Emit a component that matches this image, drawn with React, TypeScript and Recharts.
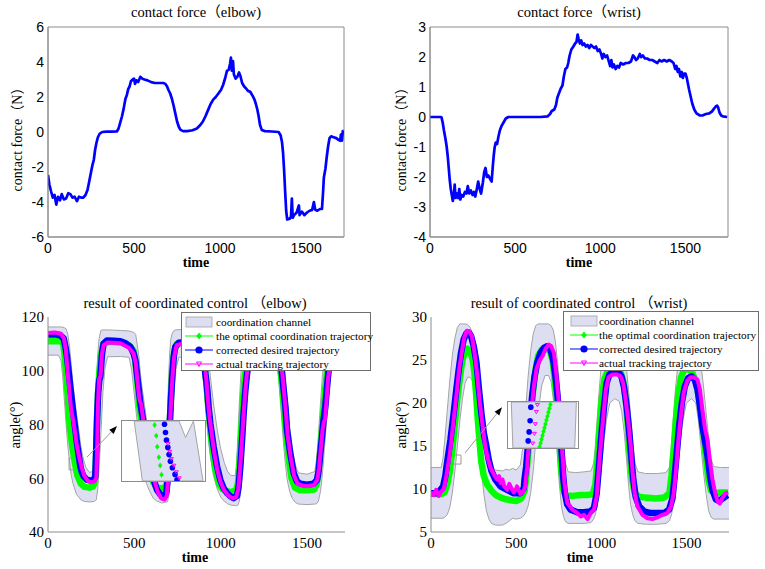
import React from 'react';
import { ComposedChart, Line, Area, XAxis, YAxis, ReferenceArea, ReferenceLine } from 'recharts';

// ---------------- data ----------------
const timeTicks = [0, 500, 1000, 1500];
const elbowForceTicks = [-6, -4, -2, 0, 2, 4, 6];
const wristForceTicks = [-4, -3, -2, -1, 0, 1, 2, 3];
const elbowAngleTicks = [40, 60, 80, 100, 120];
const wristAngleTicks = [5, 10, 15, 20, 25, 30];

const titles = ['contact force（elbow)', 'contact force（wrist)', 'result of coordinated control （elbow)', 'result of coordinated control （wrist)'];
const xLabel = 'time';
const forceLabel = 'contact force（N）';
const angleLabel = 'angle(°)';
const legendLabels = ['coordination channel', 'the optimal coordination trajectory', 'corrected desired trajectory', 'actual tracking trajectory'];

const elbowForce: number[][] = [[0,-2.45],[8,-3.0],[18,-3.4],[28,-3.75],[38,-3.6],[48,-4.15],[58,-3.7],[70,-3.9],[80,-3.55],[92,-3.85],[105,-3.8],[118,-3.5],[130,-3.55],[142,-3.75],[155,-3.7],[168,-3.95],[180,-3.7],[192,-3.75],[205,-3.75],[218,-3.6],[230,-3.3],[240,-2.8],[250,-2.3],[258,-1.9],[266,-1.6],[274,-1.0],[282,-0.6],[290,-0.3],[300,-0.1],[315,0.0],[340,0.02],[370,0.02],[400,0.03],[410,0.2],[420,0.55],[430,0.9],[440,1.35],[450,1.9],[458,2.1],[466,2.45],[474,2.6],[482,2.9],[492,3.0],[500,3.05],[506,2.75],[514,2.95],[524,2.85],[536,3.15],[548,3.05],[560,3.0],[578,2.95],[600,2.85],[620,2.8],[645,2.8],[670,2.8],[682,2.75],[692,2.6],[700,2.4],[710,2.2],[720,1.9],[730,1.5],[740,1.05],[750,0.6],[760,0.3],[770,0.12],[785,0.05],[810,0.05],[840,0.1],[865,0.2],[885,0.4],[900,0.6],[915,0.9],[930,1.25],[945,1.6],[960,1.85],[975,2.0],[990,2.2],[1005,2.4],[1018,2.7],[1030,3.1],[1040,3.5],[1050,3.55],[1058,3.9],[1063,4.25],[1068,3.5],[1075,4.05],[1080,3.3],[1090,3.05],[1100,3.15],[1110,3.4],[1118,3.2],[1128,2.8],[1140,2.6],[1150,2.5],[1162,2.35],[1175,2.3],[1190,2.05],[1200,1.85],[1208,1.6],[1216,1.3],[1224,0.9],[1232,0.4],[1242,0.12],[1260,0.05],[1300,0.03],[1340,0.0],[1352,-0.2],[1360,-0.6],[1366,-1.2],[1372,-2.2],[1378,-3.4],[1384,-4.5],[1390,-5.0],[1405,-4.95],[1412,-4.85],[1417,-3.8],[1422,-4.9],[1430,-4.75],[1445,-4.6],[1458,-4.2],[1462,-4.75],[1475,-4.55],[1490,-4.75],[1505,-4.6],[1520,-4.5],[1535,-4.45],[1545,-4.0],[1553,-4.45],[1565,-4.5],[1580,-4.4],[1592,-4.4],[1598,-3.5],[1603,-2.6],[1612,-2.1],[1620,-1.4],[1628,-0.8],[1636,-0.35],[1645,-0.25],[1660,-0.3],[1675,-0.35],[1688,-0.45],[1698,-0.5],[1702,-0.15],[1708,-0.5],[1713,0.05],[1718,0.05]];

const wristForce: number[][] = [[0,0],[30,0],[60,0],[68,-0.02],[75,-0.2],[82,-0.45],[90,-0.7],[97,-0.95],[104,-1.3],[110,-1.7],[116,-2.1],[122,-2.4],[128,-2.6],[134,-2.8],[140,-2.6],[145,-2.25],[150,-2.7],[158,-2.55],[166,-2.7],[172,-2.4],[178,-2.75],[186,-2.6],[195,-2.65],[205,-2.5],[214,-2.55],[222,-2.3],[230,-2.55],[240,-2.45],[250,-2.6],[258,-2.5],[266,-2.65],[275,-2.4],[283,-2.15],[292,-2.4],[300,-2.55],[310,-2.2],[318,-1.85],[326,-1.7],[334,-2.0],[342,-1.95],[352,-2.05],[362,-2.15],[368,-1.7],[374,-1.3],[380,-1.0],[386,-0.85],[394,-0.9],[402,-0.65],[410,-0.45],[420,-0.3],[430,-0.2],[445,-0.05],[460,0],[550,0],[650,0],[690,0.02],[705,0.1],[715,0.2],[730,0.25],[740,0.4],[748,0.65],[758,0.8],[768,0.95],[778,1.05],[786,1.35],[795,1.6],[805,1.65],[812,1.8],[820,2.05],[830,2.25],[842,2.35],[852,2.45],[860,2.5],[867,2.75],[873,2.6],[880,2.45],[888,2.55],[896,2.4],[905,2.45],[915,2.35],[925,2.4],[935,2.3],[945,2.4],[955,2.35],[965,2.3],[975,2.35],[985,2.2],[995,2.25],[1005,2.1],[1012,1.95],[1020,2.1],[1030,2.0],[1040,2.05],[1050,1.85],[1058,1.7],[1065,1.9],[1072,1.65],[1080,1.75],[1090,1.6],[1100,1.7],[1110,1.65],[1120,1.8],[1135,1.75],[1150,1.8],[1165,1.8],[1180,1.85],[1192,2.05],[1200,2.0],[1210,1.9],[1220,1.95],[1232,2.1],[1240,2.0],[1250,2.05],[1262,1.95],[1275,1.95],[1290,1.9],[1305,1.9],[1320,1.85],[1335,1.8],[1348,1.9],[1360,1.85],[1375,1.9],[1390,1.85],[1405,1.9],[1420,1.85],[1430,1.8],[1440,1.6],[1447,1.7],[1455,1.5],[1462,1.6],[1470,1.35],[1478,1.5],[1485,1.3],[1492,1.45],[1500,1.45],[1508,1.3],[1515,1.1],[1522,0.9],[1530,0.7],[1540,0.45],[1552,0.25],[1565,0.12],[1585,0.05],[1600,0.05],[1620,0.1],[1640,0.12],[1655,0.18],[1668,0.28],[1678,0.35],[1686,0.38],[1692,0.32],[1700,0.15],[1710,0.05],[1720,0.02],[1745,0]];

// elbow coordination: [t, lower, upper]
const elbowChannel: number[][] = [[0,105.8,116.3],[60,105.8,116.3],[75,104,116.3],[85,98,116.2],[95,89,116],[105,80,115.6],[115,72,113.5],[125,66,109],[135,61,102],[145,58,95],[155,56,89],[165,54,84],[178,53,78],[190,52,72],[205,51.5,67],[220,51.3,64],[240,51.2,62.2],[262,51.3,62.5],[268,51.4,70],[274,51.6,82],[280,52,95],[288,56,106],[296,64,112],[306,76,115],[318,92,115.2],[330,101,115.2],[345,105.2,115.2],[420,105.3,115],[470,105,114.8],[485,100,114.5],[495,94,114.3],[508,86,113.5],[525,76,106],[540,68,96],[555,62,89],[570,58,82],[590,55,73],[610,52.5,66],[630,51.5,62],[660,50.8,60],[680,51,61],[686,51.1,70],[692,51.2,84],[698,53,97],[705,58,107],[712,68,112],[720,80,114],[730,92,115],[742,101,115.2],[758,105,115.3],[800,105.2,115.5],[880,105,115],[893,101,115],[903,94,114.8],[913,86,113.5],[925,77,108],[940,68,98],[958,61,88],[980,56,78],[1000,53,71],[1020,51.5,66],[1040,50.5,62.5],[1060,50,61],[1085,49.8,61],[1092,49.8,66],[1100,50,76],[1108,51.5,88],[1118,56,100],[1128,66,109],[1138,77,113],[1150,89,114.5],[1165,99,115],[1185,104.5,115.2],[1320,105.2,115.5],[1330,101,115.3],[1340,94,115],[1350,85,113.5],[1360,76,109],[1372,67,100],[1385,59.5,89],[1400,55,79],[1415,52.5,71],[1432,51,65],[1450,50.4,62],[1500,50.2,61.5],[1545,50.4,62.5],[1555,50.5,67],[1565,51.3,75],[1578,55,88],[1590,62,99],[1602,72,107],[1614,82,112],[1626,92,114.5],[1640,100,115.2],[1660,104.5,115.5],[1720,105.8,115.8]];

const elbowOptimal: number[][] = [[0,111],[80,111],[88,110],[96,106],[105,99],[115,90],[125,80],[140,72],[155,66],[170,61],[190,58],[210,56.8],[240,56.5],[262,57],[272,59],[278,68],[284,82],[292,95],[305,105],[320,110],[345,110.8],[420,110.6],[470,109.5],[495,107.5],[505,104],[515,97],[530,86],[550,78],[570,70],[590,63],[610,58.5],[630,56.5],[655,56.2],[675,56.5],[688,58],[695,64],[702,76],[710,88],[720,100],[730,107],[745,110],[800,111],[870,110.5],[895,108.5],[908,102],[918,95],[930,85],[950,72],[970,63],[990,58],[1010,56],[1040,55],[1070,55],[1090,55.8],[1100,58],[1108,64],[1118,76],[1128,88],[1138,97],[1150,103],[1165,107.5],[1200,110.5],[1300,110.8],[1330,108.5],[1345,102],[1357,93],[1368,85],[1380,76],[1395,67],[1410,60],[1430,56.5],[1460,55.5],[1500,55.5],[1540,55.8],[1555,57.5],[1565,61],[1574,68],[1584,76],[1594,84],[1605,93],[1618,101],[1640,107],[1670,110],[1720,111]];

const elbowCorrected: number[][] = [[0,113.5],[40,113.6],[70,113.2],[91,112],[101,109],[110,105.2],[120,99.5],[129,94],[149,82.9],[168,73],[187,64.4],[197,62],[207,60.7],[226,59.4],[245,59.2],[264,59.4],[274,60.7],[280,71.8],[284,81.7],[290,91.6],[297,96.5],[303,97.8],[313,106.4],[322,110.1],[342,111.3],[380,111.2],[419,111],[450,110.2],[477,108.9],[496,106.4],[506,104],[515,99],[535,87.9],[554,80.4],[573,71.8],[593,64.4],[612,59.4],[631,55.7],[651,53.9],[670,53.3],[685,54.5],[693,59.4],[699,71.8],[708,84.2],[718,96.5],[728,105.2],[737,108.9],[757,110.4],[824,110.7],[860,110.3],[882,109.5],[901,105.2],[911,99],[921,94],[930,86.6],[940,80.4],[959,71.8],[979,64.4],[998,59.4],[1017,56.3],[1037,54.5],[1056,53.3],[1075,52.6],[1095,53.5],[1104,57],[1114,64.4],[1124,74.3],[1133,84.2],[1143,92.8],[1153,99],[1162,102.7],[1181,107.6],[1210,110.1],[1260,110.5],[1307,110.4],[1336,107.6],[1355,99],[1365,92.8],[1375,86.6],[1384,78],[1403,69.3],[1423,61.9],[1442,58.8],[1461,58],[1500,57.6],[1539,58],[1558,59.4],[1568,63.1],[1577,69.3],[1587,75.5],[1596,81.7],[1606,86.6],[1616,94],[1625,100.2],[1645,106.4],[1674,109.5],[1720,110.5]];

const elbowActual: number[][] = [[0,114],[40,114.2],[75,113.8],[92,112],[103,108],[113,100],[123,93],[133,86],[150,80],[165,73],[180,68],[195,64],[210,61],[230,59],[250,58.5],[268,58.8],[280,60],[285,72],[290,88],[296,97],[304,98],[312,106],[322,109.5],[345,110.5],[420,110.2],[470,108.5],[495,106.5],[508,103],[518,96],[530,89],[540,87.5],[555,80],[575,72],[595,65],[615,59.5],[635,55],[655,52.5],[675,52],[688,53.5],[696,60],[702,72],[710,85],[720,97],[730,105],[745,109.5],[800,110.5],[880,109.5],[903,105],[915,98],[925,90],[935,83],[945,78],[962,70],[980,63],[1000,58.5],[1020,55.5],[1045,53.5],[1070,52.5],[1090,53],[1102,56],[1112,63],[1122,73],[1132,83],[1142,92],[1152,99],[1165,104],[1190,108.5],[1220,110],[1300,110.5],[1337,107],[1357,99],[1367,92],[1377,85],[1388,76],[1405,68],[1425,61],[1445,58],[1470,57.3],[1500,57],[1540,57.5],[1560,59.5],[1570,64],[1580,71],[1590,78],[1598,81],[1605,82],[1612,88],[1622,97],[1635,103],[1655,107],[1680,109.5],[1720,110]];

// wrist coordination: [t, lower, upper]
const wristChannel: number[][] = [[0,6.6,12.5],[60,6.6,12.5],[70,6.6,13.5],[80,6.7,15.5],[95,7,19],[110,7.8,22.5],[125,9.5,25.5],[140,12,27.5],[155,15,28.8],[170,18,29.2],[185,20.5,29.2],[200,22.3,29.2],[215,23,29.1],[230,23,28.8],[245,22.5,28],[258,21,27],[270,18.5,25.5],[282,15.5,23.5],[295,12.5,21],[310,9.5,18.5],[325,7.5,16],[340,6.5,14],[355,6,12.6],[380,5.8,12.2],[420,5.8,12.1],[440,6,12.3],[460,6.3,12.2],[480,6.6,12.4],[500,6.5,12.2],[525,6.6,12.8],[540,6.8,15],[555,7.2,19],[570,8,23],[585,9.5,26],[600,12,28],[615,15.5,29],[630,19,29.2],[650,22,29.2],[670,23.2,29.2],[690,23.2,29.2],[705,22.5,29],[718,20.5,28.5],[730,17.5,27.2],[742,14,25],[754,10.5,22],[766,8,19],[778,6.8,15.5],[790,6.2,13],[805,6,12],[850,6,11.9],[900,6,12],[940,6.1,12.1],[955,6.5,13],[965,7,15],[975,8,18],[988,10,21.5],[1000,12.5,24.5],[1015,15.5,26.5],[1030,18,27.3],[1050,20,27.5],[1080,20.5,27.5],[1105,20.2,27.3],[1120,19,27],[1135,16.5,26],[1148,13.5,24],[1160,10.5,21.5],[1172,8.2,18.5],[1185,7,15.5],[1198,6.3,13],[1215,6,12],[1260,5.9,11.8],[1330,5.9,11.8],[1380,6,11.9],[1400,6.3,12.5],[1412,7,15],[1422,8,18],[1435,10,21.5],[1450,12.5,24.5],[1465,15.5,26.5],[1480,18,27.3],[1500,20,27.5],[1530,20.5,27.5],[1555,20,27.2],[1570,18,26.5],[1585,15,24.5],[1600,12,22],[1615,9.5,19],[1630,7.5,16],[1645,6.7,13.5],[1660,6.5,12.6],[1700,6.5,12.5],[1750,6.5,12.5]];

const wristOptimal: number[][] = [[0,9.5],[60,9.4],[80,9.6],[95,10.5],[110,12],[125,14.5],[140,17.5],[155,20.5],[170,23],[185,25],[200,26],[215,26.3],[230,26],[245,25],[255,23.5],[265,21],[275,18],[285,15.5],[295,13.2],[310,11.5],[330,10.5],[355,9.8],[380,9.3],[410,9],[440,8.8],[470,8.7],[500,8.6],[530,8.9],[550,9.8],[560,11.5],[572,14.5],[585,18],[600,21.5],[615,24],[630,25.5],[650,26.2],[680,26.3],[700,26],[715,24.8],[728,22.5],[740,19.5],[752,16],[764,12.5],[776,10],[790,9.3],[830,9.2],[880,9.3],[920,9.3],[950,9.4],[965,10.5],[978,13.5],[990,17],[1003,20.5],[1018,22.8],[1035,23.6],[1060,23.9],[1090,23.9],[1115,23.5],[1130,22.5],[1143,20.5],[1155,17.5],[1167,14],[1180,11.2],[1195,9.6],[1220,9.1],[1260,9],[1320,8.9],[1370,9],[1400,9.5],[1412,11.5],[1425,14.5],[1438,18],[1452,21],[1468,23],[1485,23.8],[1510,24],[1535,23.5],[1555,22.5],[1570,21],[1585,19],[1600,16.5],[1615,13.5],[1630,11],[1645,9.8],[1670,9.5],[1700,9.6],[1745,9.6]];

const wristCorrected: number[][] = [[0,9.5],[40,9.5],[71,10.3],[84,11.5],[94,13],[114,15.7],[133,18.8],[149,21.6],[163,23.9],[176,25.8],[192,27.4],[208,28.1],[222,28.2],[235,27.8],[251,26.6],[267,24.7],[280,21.9],[296,18.8],[310,16.5],[325,15],[339,13.4],[355,12.1],[378,11.1],[408,10.3],[447,9.9],[486,9.5],[525,9.5],[545,10.1],[549,11.1],[559,12.6],[569,15],[580,17.7],[594,20.8],[608,23.1],[624,24.7],[643,25.8],[663,26.4],[682,26.6],[702,26.2],[718,25],[731,23.1],[745,20.4],[757,17.3],[767,14.2],[776,11.5],[786,9.5],[800,8.2],[820,7.6],[859,7.3],[898,7.3],[937,7.4],[957,7.8],[973,9.5],[986,12.6],[1000,16.1],[1016,19.6],[1031,22.3],[1047,23.3],[1075,23.7],[1098,23.7],[1118,23.1],[1133,21.9],[1149,19.6],[1163,16.9],[1176,13.8],[1188,11.1],[1202,9.1],[1222,8],[1251,7.4],[1290,7.2],[1329,7.2],[1369,7.2],[1398,7.6],[1418,8.9],[1431,11.5],[1443,14.2],[1457,17.3],[1473,20],[1490,21.9],[1510,22.9],[1529,23.1],[1549,22.7],[1565,21.6],[1580,19.6],[1594,17.3],[1608,15.7],[1624,13.8],[1639,11.5],[1653,9.9],[1673,8.8],[1692,8.6],[1712,8.9],[1741,9.3]];

const wristActual: number[][] = [[0,9.6],[15,9.3],[30,9.9],[45,9.2],[60,9.7],[75,10],[90,11.5],[110,14],[130,17.5],[150,21],[165,23.9],[180,25.8],[195,27.6],[210,28.4],[225,28.3],[240,27.8],[256,25.8],[270,23.5],[286,20.2],[302,17.5],[318,15],[333,13.6],[349,12.5],[369,11.7],[388,11.1],[400,11.5],[408,10.7],[420,11.1],[430,10.3],[447,9.9],[460,10.6],[467,10.3],[486,9.6],[500,10],[505,10.3],[525,9.4],[545,9.8],[553,10.3],[565,12.6],[576,15.7],[588,18.8],[604,21.9],[620,24],[637,24.9],[656,25.5],[673,26.3],[692,26.8],[706,26.6],[722,25.8],[737,23.1],[751,20],[761,16.9],[773,13.8],[784,10.7],[800,8.4],[830,7.6],[859,7.2],[880,6.8],[898,7],[920,6.5],[937,7.2],[957,7.6],[973,9.1],[984,11.9],[996,15],[1012,18.5],[1027,21.6],[1043,23],[1064,23.3],[1094,23.3],[1114,23.1],[1129,22.3],[1143,20.4],[1157,18.1],[1173,15],[1184,11.9],[1196,9.5],[1212,8],[1241,7],[1271,6.6],[1300,6.5],[1329,6.7],[1360,7],[1388,7.2],[1410,8],[1425,9.5],[1439,12.2],[1453,15.7],[1469,18.8],[1484,21.2],[1505,22.6],[1525,23],[1545,23],[1565,22.7],[1579,21.6],[1594,19.2],[1610,16.9],[1624,15.7],[1637,13.4],[1653,11.1],[1669,9.5],[1682,8.6],[1696,8.3],[1712,9],[1730,9.5],[1745,9.6]];

// zoom windows: [t1, t2, v1, v2] and arrow [tStart, vStart, tEnd, vEnd]
const elbowZoomWindow = [122, 203, 63.1, 67.5];
const elbowZoomArrow = [226, 67.9, 400, 79.4];
const wristZoomWindow = [94, 176, 12.9, 13.95];
const wristZoomArrow = [200, 14.2, 417, 19.5];

// inset close-ups (0-100 local scale): band [x, lower, upper]; markers [x, y]
const elbowInsetChannel: number[][] = [[14.7,100,100],[24.6,0,100],[68.7,0,100],[76.6,0,72.5],[86.1,0,100],[97.6,0,0]];
const elbowInsetOptimal: number[][] = [[39.3,93.4],[41.3,75.3],[42.5,57.1],[44.4,39.6],[46,25.8],[47.6,10.4]];
const elbowInsetCorrected: number[][] = [[51.2,94.5],[52.4,80.8],[53.6,68.1],[55.2,56],[56.7,44],[58.3,33],[60.7,22],[63.9,11],[66.3,2.2]];
const elbowInsetActual: number[][] = [[55.5,62],[57.5,49],[59.5,37],[62.5,26],[65.5,15],[69,5]];
const wristInsetChannel: number[][] = [[4.7,100,100],[7,0,100],[95.3,0,100],[97.7,100,100]];
const wristInsetOptimal: number[][] = [[60.5,94.4],[59.1,86],[57.7,77.6],[56.3,69.2],[54.9,60.8],[53.5,52.4],[52.1,44.1],[50.7,35.7],[49.3,27.3],[47.9,18.9],[46.5,10.5],[45.1,2.1]];
const wristInsetCorrected: number[][] = [[32.6,88.8],[31.6,59.4],[30.2,35],[28.8,15.4]];
const wristInsetActual: number[][] = [[42,94],[40.5,79],[39,52.4],[37.7,31.5],[35.3,10.5]];

// ---------------- helpers ----------------
const rows = (a: number[][]) => a.map((p) => ({ t: p[0], v: p[1] }));
const bandRows = (a: number[][]) => a.map((p) => ({ t: p[0], r: [p[1], p[2]] }));

const SERIF = '"Liberation Serif", "Times New Roman", "Noto Sans CJK SC", serif';
const SANS = '"Liberation Sans", Arial, sans-serif';
const AXIS = '#8c8c8c';
const BAND = '#dedef2';
const BAND_EDGE = '#a4a4a4';
const GREEN = '#00ff00';
const BLUE = '#0000ff';
const MAGENTA = '#ff00ff';

type PanelProps = {
  left: number; top: number; w: number; h: number;
  px0: number; py0: number; px1: number; py1: number;
  xMax: number; yDomain: [number, number]; yTicks: number[];
  tickFont: string; tickSize: number; xTickMargin: number;
  box?: boolean; children?: React.ReactNode;
};

function Panel(p: PanelProps) {
  const margin = { top: p.py0 - p.top, right: p.left + p.w - p.px1, left: 0, bottom: 0 };
  const tick = { fontFamily: p.tickFont, fontSize: p.tickSize, fill: '#000' };
  return (
    <div style={{ position: 'absolute', left: p.left, top: p.top }}>
      <ComposedChart width={p.w} height={p.h} margin={margin}>
        <XAxis type="number" dataKey="t" domain={[0, p.xMax]} ticks={timeTicks} interval={0} allowDataOverflow
          tick={tick} tickLine={false} tickSize={0} tickMargin={p.xTickMargin} height={p.top + p.h - p.py1} axisLine={{ stroke: AXIS }} />
        <YAxis type="number" domain={p.yDomain} ticks={p.yTicks} interval={0} allowDataOverflow
          tick={tick} tickLine={false} tickSize={0} tickMargin={4} width={p.px0 - p.left} axisLine={{ stroke: AXIS }} />
        {p.box ? <ReferenceArea x1={0} x2={p.xMax} y1={p.yDomain[0]} y2={p.yDomain[1]} fill="none" stroke={AXIS} ifOverflow="visible" /> : null}
        {p.children}
      </ComposedChart>
    </div>
  );
}

const Arrow = (props: any) => {
  const { x1, y1, x2, y2 } = props;
  if ([x1, y1, x2, y2].some((v) => typeof v !== 'number' || isNaN(v))) return <g />;
  const a = Math.atan2(y2 - y1, x2 - x1);
  const L = 8, Wd = 3;
  const bx = x2 - L * Math.cos(a), by = y2 - L * Math.sin(a);
  const nx = -Math.sin(a) * Wd, ny = Math.cos(a) * Wd;
  return (
    <g>
      <line x1={x1} y1={y1} x2={bx} y2={by} stroke="#9a9a9a" strokeWidth={1} />
      <polygon points={`${x2},${y2} ${bx + nx},${by + ny} ${bx - nx},${by - ny}`} fill="#000" />
    </g>
  );
};

const diamondDot = (size: number, color: string) => (props: any) => {
  const { cx, cy, index } = props;
  if (typeof cx !== 'number' || typeof cy !== 'number') return <g key={`dg-${index}`} />;
  return <path key={`d-${index}`} d={`M${cx},${cy - size} L${cx + size * 0.75},${cy} L${cx},${cy + size} L${cx - size * 0.75},${cy} Z`} fill={color} />;
};
const circleDot = (r: number, color: string) => (props: any) => {
  const { cx, cy, index } = props;
  if (typeof cx !== 'number' || typeof cy !== 'number') return <g key={`cg-${index}`} />;
  return <circle key={`c-${index}`} cx={cx} cy={cy} r={r} fill={color} />;
};
const triDot = (s: number, color: string) => (props: any) => {
  const { cx, cy, index } = props;
  if (typeof cx !== 'number' || typeof cy !== 'number') return <g key={`tg-${index}`} />;
  return <path key={`t-${index}`} d={`M${cx - s},${cy - s * 0.6} L${cx + s},${cy - s * 0.6} L${cx},${cy + s} Z`} fill="none" stroke={color} strokeWidth={1} />;
};

function Inset(p: { left: number; top: number; w: number; h: number; band: number[][]; opt: number[][]; cor: number[][]; act: number[][]; optLine?: boolean }) {
  return (
    <div style={{ position: 'absolute', left: p.left, top: p.top, width: p.w, height: p.h, background: '#fff', border: `1px solid ${AXIS}`, boxSizing: 'border-box' }}>
      <ComposedChart width={p.w - 2} height={p.h - 2} margin={{ top: 0, right: 0, bottom: 0, left: 0 }}>
        <XAxis type="number" dataKey="t" domain={[0, 100]} hide />
        <YAxis type="number" domain={[0, 100]} hide width={0} />
        <Area data={bandRows(p.band)} dataKey="r" type="linear" stroke={BAND_EDGE} strokeWidth={1} fill={BAND} fillOpacity={1} dot={false} activeDot={false} isAnimationActive={false} />
        <Line data={rows(p.opt)} dataKey="v" type="linear" stroke={p.optLine ? GREEN : 'none'} strokeWidth={1} dot={diamondDot(3, GREEN)} activeDot={false} isAnimationActive={false} />
        <Line data={rows(p.cor)} dataKey="v" type="linear" stroke="none" dot={circleDot(2.8, BLUE)} activeDot={false} isAnimationActive={false} />
        <Line data={rows(p.act)} dataKey="v" type="linear" stroke="none" dot={triDot(2, MAGENTA)} activeDot={false} isAnimationActive={false} />
      </ComposedChart>
    </div>
  );
}

function LegendBox(p: { left: number; top: number; w: number; h: number; iconX: number; textX: number }) {
  const rowY = [9, 23, 37, 51];
  const icons = [
    <rect key="a" x={1} y={1} width={26} height={10} fill={BAND} stroke={BAND_EDGE} strokeWidth={0.8} />,
    <g key="b"><line x1={0} y1={6} x2={28} y2={6} stroke={GREEN} strokeWidth={1} /><path d="M14,2.5 L16.8,6 L14,9.5 L11.2,6 Z" fill={GREEN} /></g>,
    <g key="c"><line x1={0} y1={6} x2={28} y2={6} stroke={BLUE} strokeWidth={1} /><circle cx={14} cy={6} r={3.6} fill={BLUE} /></g>,
    <g key="d"><line x1={0} y1={6} x2={28} y2={6} stroke={MAGENTA} strokeWidth={1} /><path d="M11.5,4 L16.5,4 L14,8.5 Z" fill="none" stroke={MAGENTA} strokeWidth={1} /></g>,
  ];
  return (
    <div style={{ position: 'absolute', left: p.left, top: p.top, width: p.w, height: p.h, background: '#fff', border: '1px solid #6e6e6e', boxSizing: 'border-box' }}>
      {legendLabels.map((lab, i) => (
        <React.Fragment key={lab}>
          <svg width={28} height={12} style={{ position: 'absolute', left: p.iconX, top: rowY[i] - 6 }}>{icons[i]}</svg>
          <div style={{ position: 'absolute', left: p.textX, top: rowY[i] - 7, fontFamily: SERIF, fontSize: 11.3, lineHeight: '14px', whiteSpace: 'nowrap', color: '#000' }}>{lab}</div>
        </React.Fragment>
      ))}
    </div>
  );
}

function Txt(p: { x: number; y: number; size: number; rotate?: boolean; bold?: boolean; children: React.ReactNode }) {
  return (
    <div style={{ position: 'absolute', left: p.x, top: p.y, transform: `translate(-50%, -50%)${p.rotate ? ' rotate(-90deg)' : ''}`, whiteSpace: 'nowrap', fontFamily: SERIF, fontSize: p.size, fontWeight: p.bold ? 700 : 400, lineHeight: 1, color: '#000' }}>
      {p.children}
    </div>
  );
}

const traceProps = { type: 'linear' as const, strokeLinejoin: 'round' as const, dot: false, activeDot: false, isAnimationActive: false };

export default function App() {
  return (
    <div style={{ position: 'absolute', left: 0, top: 0, width: 765, height: 569, background: '#fff', overflow: 'hidden' }}>
      {/* top-left: elbow contact force */}
      <Panel left={0} top={0} w={382} h={280} px0={48} py0={27} px1={344} py1={237} xMax={1720} yDomain={[-6, 6]} yTicks={elbowForceTicks} tickFont={SANS} tickSize={14} xTickMargin={6} box>
        <Line data={rows(elbowForce)} dataKey="v" stroke={BLUE} strokeWidth={2.7} {...traceProps} />
      </Panel>
      {/* top-right: wrist contact force */}
      <Panel left={382} top={0} w={383} h={280} px0={430} py0={27} px1={728} py1={237} xMax={1750} yDomain={[-4, 3]} yTicks={wristForceTicks} tickFont={SANS} tickSize={14} xTickMargin={6} box>
        <Line data={rows(wristForce)} dataKey="v" stroke={BLUE} strokeWidth={2.7} {...traceProps} />
      </Panel>
      {/* bottom-left: elbow coordination */}
      <Panel left={0} top={280} w={382} h={289} px0={48} py0={317} px1={345} py1={532} xMax={1720} yDomain={[40, 120]} yTicks={elbowAngleTicks} tickFont={SERIF} tickSize={15} xTickMargin={5}>
        <Area data={bandRows(elbowChannel)} dataKey="r" type="linear" stroke={BAND_EDGE} strokeWidth={1} fill={BAND} fillOpacity={1} dot={false} activeDot={false} isAnimationActive={false} />
        <Line data={rows(elbowOptimal)} dataKey="v" stroke={GREEN} strokeWidth={6.5} {...traceProps} />
        <Line data={rows(elbowCorrected)} dataKey="v" stroke={BLUE} strokeWidth={6.5} {...traceProps} />
        <Line data={rows(elbowActual)} dataKey="v" stroke={MAGENTA} strokeWidth={4} {...traceProps} />
        <ReferenceArea x1={elbowZoomWindow[0]} x2={elbowZoomWindow[1]} y1={elbowZoomWindow[2]} y2={elbowZoomWindow[3]} fill="none" stroke="#9a9a9a" ifOverflow="visible" />
        <ReferenceLine segment={[{ x: elbowZoomArrow[0], y: elbowZoomArrow[1] }, { x: elbowZoomArrow[2], y: elbowZoomArrow[3] }]} shape={Arrow} ifOverflow="visible" />
      </Panel>
      {/* bottom-right: wrist coordination */}
      <Panel left={382} top={280} w={383} h={289} px0={431} py0={317} px1={729} py1={532} xMax={1750} yDomain={[5, 30]} yTicks={wristAngleTicks} tickFont={SERIF} tickSize={15} xTickMargin={5}>
        <Area data={bandRows(wristChannel)} dataKey="r" type="linear" stroke={BAND_EDGE} strokeWidth={1} fill={BAND} fillOpacity={1} dot={false} activeDot={false} isAnimationActive={false} />
        <Line data={rows(wristOptimal)} dataKey="v" stroke={GREEN} strokeWidth={6.5} {...traceProps} />
        <Line data={rows(wristCorrected)} dataKey="v" stroke={BLUE} strokeWidth={6.5} {...traceProps} />
        <Line data={rows(wristActual)} dataKey="v" stroke={MAGENTA} strokeWidth={4} {...traceProps} />
        <ReferenceArea x1={wristZoomWindow[0]} x2={wristZoomWindow[1]} y1={wristZoomWindow[2]} y2={wristZoomWindow[3]} fill="none" stroke="#9a9a9a" ifOverflow="visible" />
        <ReferenceLine segment={[{ x: wristZoomArrow[0], y: wristZoomArrow[1] }, { x: wristZoomArrow[2], y: wristZoomArrow[3] }]} shape={Arrow} ifOverflow="visible" />
      </Panel>

      <Inset left={121} top={420} w={85} h={62} band={elbowInsetChannel} opt={elbowInsetOptimal} cor={elbowInsetCorrected} act={elbowInsetActual} />
      <Inset left={507} top={401} w={72} h={48} band={wristInsetChannel} opt={wristInsetOptimal} cor={wristInsetCorrected} act={wristInsetActual} optLine />

      <LegendBox left={181} top={312} w={190} h={59} iconX={3} textX={34} />
      <LegendBox left={563} top={311} w={196} h={60} iconX={6} textX={35} />

      <Txt x={196} y={12} size={14.5}>{titles[0]}</Txt>
      <Txt x={579} y={12} size={14.5}>{titles[1]}</Txt>
      <Txt x={195} y={303} size={14.5}>{titles[2]}</Txt>
      <Txt x={579} y={303} size={14.5}>{titles[3]}</Txt>

      <Txt x={196} y={263} size={14} bold>{xLabel}</Txt>
      <Txt x={579} y={263} size={14} bold>{xLabel}</Txt>
      <Txt x={195} y={558} size={14} bold>{xLabel}</Txt>
      <Txt x={580} y={558} size={14} bold>{xLabel}</Txt>

      <Txt x={18} y={136} size={14} rotate>{forceLabel}</Txt>
      <Txt x={402} y={136} size={14} rotate>{forceLabel}</Txt>
      <Txt x={15} y={425} size={14.5} rotate>{angleLabel}</Txt>
      <Txt x={401} y={425} size={14.5} rotate>{angleLabel}</Txt>
    </div>
  );
}
